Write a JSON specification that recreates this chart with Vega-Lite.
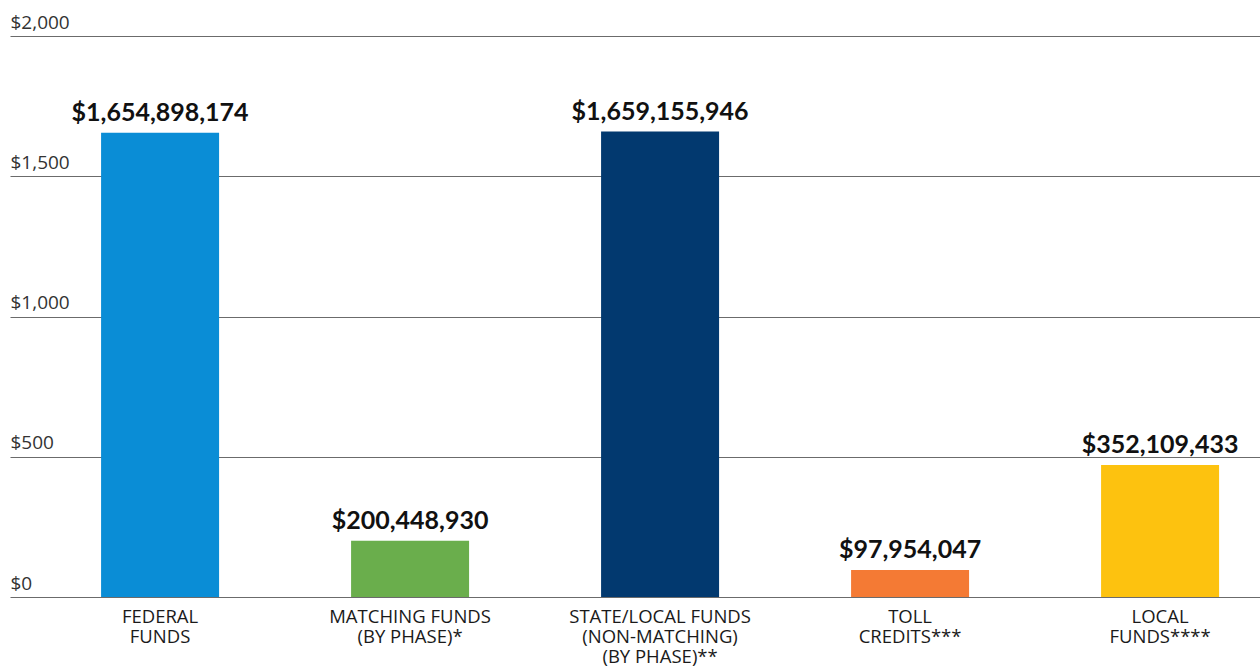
{
  "$schema": "https://vega.github.io/schema/vega-lite/v6.json",
  "autosize": {"type": "none"},
  "width": 1250,
  "height": 561,
  "padding": {"left": 10, "top": 36, "right": 0, "bottom": 72},
  "background": "white",
  "config": {"view": {"stroke": null}},
  "data": {
    "values": [
      {"category": "FEDERAL|FUNDS", "amount": 1654.9, "label": "$1,654,898,174", "color": "#0a8dd6"},
      {"category": "MATCHING FUNDS|(BY PHASE)*", "amount": 200.4, "label": "$200,448,930", "color": "#6aae4c"},
      {"category": "STATE/LOCAL FUNDS|(NON-MATCHING)|(BY PHASE)**", "amount": 1659.2, "label": "$1,659,155,946", "color": "#02396f"},
      {"category": "TOLL|CREDITS***", "amount": 96.5, "label": "$97,954,047", "color": "#f47a34"},
      {"category": "LOCAL|FUNDS****", "amount": 471, "label": "$352,109,433", "color": "#fdc20f"}
    ]
  },
  "encoding": {
    "x": {
      "field": "category",
      "type": "nominal",
      "sort": null,
      "scale": {"paddingInner": 0.528, "paddingOuter": 0.264, "align": 0.69},
      "axis": {
        "title": null,
        "domain": false,
        "ticks": false,
        "labelAngle": 0,
        "labelExpr": "split(datum.value, '|')",
        "labelLimit": 400,
        "labelOverlap": false,
        "labelFont": "Open Sans",
        "labelFontWeight": 400,
        "labelFontSize": 18.5,
        "labelColor": "#1a1a1a",
        "labelLineHeight": 20,
        "labelBaseline": "top",
        "labelPadding": 10
      }
    },
    "y": {
      "field": "amount",
      "type": "quantitative",
      "scale": {"domain": [0, 2000], "nice": false},
      "axis": {
        "title": null,
        "domain": false,
        "ticks": false,
        "values": [0, 500, 1000, 1500, 2000],
        "labelExpr": "'$' + format(datum.value, ',')",
        "labelAlign": "left",
        "labelBaseline": "alphabetic",
        "labelPadding": 0,
        "labelOffset": -8,
        "labelFont": "Open Sans",
        "labelFontWeight": 400,
        "labelFontSize": 19,
        "labelColor": "#333333",
        "gridColor": "#6b6b6b",
        "gridWidth": 1,
        "gridOpacity": 1
      }
    }
  },
  "layer": [
    {
      "mark": {"type": "bar"},
      "encoding": {
        "color": {"field": "color", "type": "nominal", "scale": null}
      }
    },
    {
      "mark": {"type": "text", "baseline": "alphabetic", "dy": -12, "font": "Lato", "fontWeight": "bold", "fontSize": 25, "color": "#111111"},
      "encoding": {
        "text": {"field": "label"}
      }
    }
  ]
}
